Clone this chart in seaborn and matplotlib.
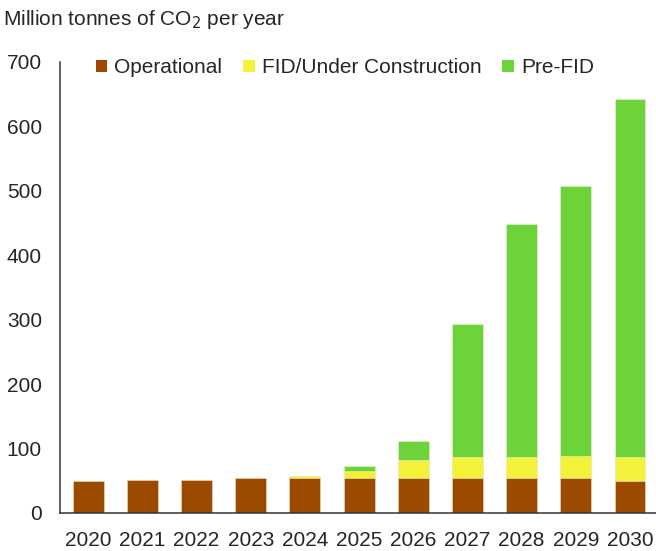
import numpy as np
import pandas as pd
import matplotlib
matplotlib.use("Agg")
import matplotlib.pyplot as plt
import seaborn as sns
from matplotlib.patches import Patch

years = ["2020", "2021", "2022", "2023", "2024", "2025", "2026", "2027", "2028", "2029", "2030"]
operational = [50, 51, 51, 55, 55, 55, 54, 54, 54, 54, 50]
fid_construction = [0, 0, 0, 0, 3, 10, 28, 33, 33, 35, 37]
pre_fid = [0, 0, 0, 0, 0, 8, 29, 206, 361, 418, 555]

series = ["Operational", "FID/Under Construction", "Pre-FID"]
colors = ["#9C4A00", "#F2F23A", "#6CD338"]

df = pd.DataFrame({"year": years, "op": operational, "fid": fid_construction, "pre": pre_fid})
df["op_fid"] = df["op"] + df["fid"]
df["total"] = df["op_fid"] + df["pre"]

sns.set_style("white")
plt.rcParams["font.family"] = ["Liberation Sans", "DejaVu Sans"]

fig = plt.figure(figsize=(6.56, 5.51), dpi=100)
ax = fig.add_axes([0.0915, 0.069, 0.9085, 0.8185])

# stacked bars drawn from the top down
for col, c in zip(["total", "op_fid", "op"], colors[::-1]):
    sns.barplot(data=df, x="year", y=col, color=c, width=0.57, ax=ax,
                edgecolor="#f4e9dc", linewidth=0.4, saturation=1)

ax.set_ylim(0, 700)
ax.set_xlim(-0.52, 10.48)
ax.set_yticks(range(0, 701, 100))
ax.set_xlabel("")
ax.set_ylabel("")
ax.tick_params(axis="both", labelsize=15, length=0)
ax.tick_params(axis="x", pad=13)
ax.tick_params(axis="y", pad=13)
sns.despine(ax=ax, top=True, right=True)
for s in ["left", "bottom"]:
    ax.spines[s].set_color("#333333")
    ax.spines[s].set_linewidth(1.1)

fig.text(0.005, 0.965, "Million tonnes of CO$_2$ per year", fontsize=15, va="center", ha="left")

handles = [Patch(facecolor=c, edgecolor="none", label=s) for s, c in zip(series, colors)]
ax.legend(handles=handles, ncol=3, frameon=False, fontsize=15,
          loc="center", bbox_to_anchor=(0.478, 0.987), handlelength=0.55, handleheight=0.55,
          handletextpad=0.35, columnspacing=1.0)

fig.savefig("out.png", dpi=100)
